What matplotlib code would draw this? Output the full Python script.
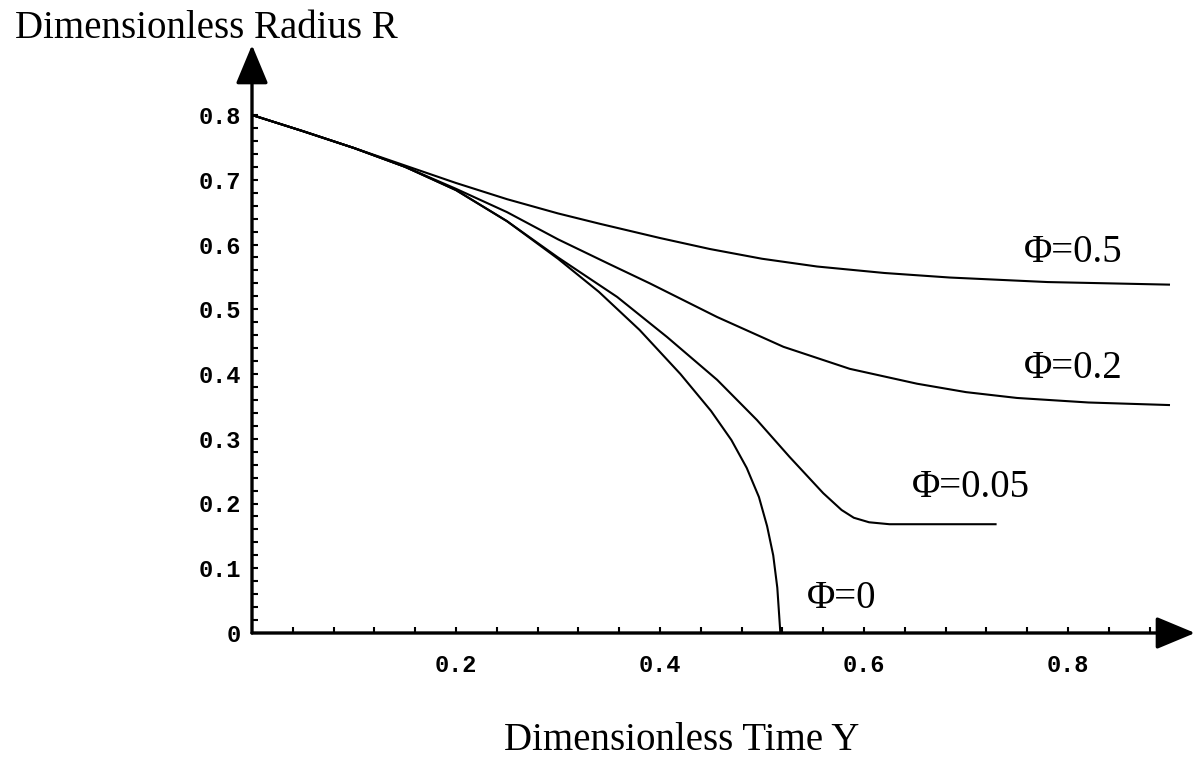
import matplotlib
matplotlib.use('Agg')
from matplotlib import pyplot as plt
from matplotlib.ticker import FixedLocator

y_phi0 = [0, 0.05, 0.1, 0.15, 0.2, 0.25, 0.3, 0.34, 0.38, 0.42, 0.45, 0.47, 0.485, 0.497, 0.505, 0.511, 0.515, 0.518]
r_phi0 = [0.8, 0.775, 0.749, 0.72, 0.684, 0.636, 0.578, 0.527, 0.468, 0.40, 0.343, 0.298, 0.255, 0.21, 0.165, 0.12, 0.07, 0.0]

y_phi005 = [0, 0.05, 0.1, 0.15, 0.2, 0.25, 0.3, 0.358, 0.407, 0.456, 0.495, 0.527, 0.56, 0.578, 0.59, 0.605, 0.625, 0.73]
r_phi005 = [0.8, 0.775, 0.749, 0.72, 0.684, 0.636, 0.58, 0.519, 0.457, 0.391, 0.329, 0.272, 0.216, 0.19, 0.178, 0.171, 0.168, 0.168]

y_phi02 = [0, 0.05, 0.1, 0.15, 0.2, 0.25, 0.3, 0.35, 0.39, 0.456, 0.521, 0.586, 0.652, 0.7, 0.75, 0.82, 0.9]
r_phi02 = [0.8, 0.775, 0.749, 0.72, 0.686, 0.65, 0.608, 0.57, 0.54, 0.488, 0.442, 0.408, 0.385, 0.372, 0.363, 0.356, 0.352]

y_phi05 = [0, 0.05, 0.1, 0.15, 0.2, 0.25, 0.3, 0.341, 0.4, 0.449, 0.5, 0.554, 0.62, 0.684, 0.78, 0.9]
r_phi05 = [0.8, 0.775, 0.749, 0.722, 0.695, 0.67, 0.648, 0.632, 0.61, 0.593, 0.578, 0.566, 0.556, 0.549, 0.542, 0.538]

x_ticks = [0.2, 0.4, 0.6, 0.8]
x_tick_labels = ['0.2', '0.4', '0.6', '0.8']
y_ticks = [0, 0.1, 0.2, 0.3, 0.4, 0.5, 0.6, 0.7, 0.8]
y_tick_labels = ['0', '0.1', '0.2', '0.3', '0.4', '0.5', '0.6', '0.7', '0.8']

curve_labels = ['\u03a6=0', '\u03a6=0.05', '\u03a6=0.2', '\u03a6=0.5']
label_pos = [(0.544, 0.054), (0.647, 0.225), (0.757, 0.409), (0.757, 0.588)]

W, H = 1195, 763
fig = plt.figure(figsize=(W / 100, H / 100), dpi=100)
ax = fig.add_axes([252 / W, (H - 633) / H, (W - 252) / W, (633 - 45) / H])
ax.set_xlim(0, 943 / 1020)
ax.set_ylim(0, 588 / 647.5)

for s in ax.spines.values():
    s.set_visible(False)

for xs, rs in [(y_phi0, r_phi0), (y_phi005, r_phi005), (y_phi02, r_phi02), (y_phi05, r_phi05)]:
    ax.plot(xs, rs, color='black', lw=1.5, solid_capstyle='butt', solid_joinstyle='round')

# axes drawn as arrows
arrow = dict(arrowstyle='-|>,head_length=1.2,head_width=0.5', lw=2.4, color='black',
             shrinkA=0, shrinkB=0, mutation_scale=20)
ax.annotate('', xy=(943 / 1020, 0), xytext=(0, 0), arrowprops=arrow, annotation_clip=False)
ax.annotate('', xy=(0, 588 / 647.5), xytext=(0, 0), arrowprops=arrow, annotation_clip=False)

ax.xaxis.set_major_locator(FixedLocator(x_ticks))
ax.xaxis.set_minor_locator(FixedLocator([i * 0.04 for i in range(1, 23)]))
ax.yaxis.set_major_locator(FixedLocator(y_ticks))
ax.yaxis.set_minor_locator(FixedLocator([i * 0.02 for i in range(1, 41)]))
ax.set_xticklabels(x_tick_labels)
ax.set_yticklabels(y_tick_labels)
ax.tick_params(which='both', direction='in', length=4, width=1.5)
ax.tick_params(axis='x', which='major', pad=15)
ax.tick_params(axis='y', which='major', pad=8)
for lab in ax.get_xticklabels() + ax.get_yticklabels():
    lab.set_family('Liberation Mono')
    lab.set_weight('bold')
    lab.set_fontsize(17)

for txt, (px, py) in zip(curve_labels, label_pos):
    ax.text(px, py, txt, family='Liberation Serif', fontsize=28, ha='left', va='center')

fig.text(15 / W, 1 - 28 / H, 'Dimensionless Radius R', family='Liberation Serif',
         fontsize=28, ha='left', va='center')
fig.text(682 / W, 1 - 740 / H, 'Dimensionless Time Y', family='Liberation Serif',
         fontsize=28, ha='center', va='center')

fig.savefig('out.png', dpi=100, facecolor='white')
